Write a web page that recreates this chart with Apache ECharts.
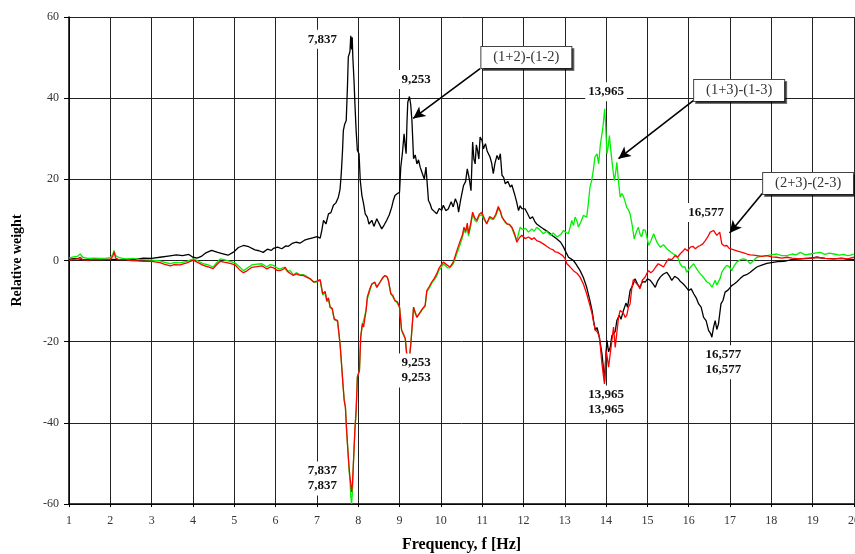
<!DOCTYPE html>
<html>
<head>
<meta charset="utf-8">
<script src="https://cdn.jsdelivr.net/npm/echarts@6/dist/echarts.min.js"></script>
<style>
html,body{margin:0;padding:0;background:#fff;}
#chart{width:855px;height:554px;}
</style>
</head>
<body>
<div id="chart"></div>
<script>
// (1+2)-(1-2) black
var fBlack=[1.00,1.15,1.3,1.5,1.7,1.9,2.05,2.2,2.4,2.6,2.8,3.0,3.2,3.4,3.6,3.75,3.9,4.0,4.1,4.2,4.3,4.45,4.6,4.75,4.85,5.0,5.1,5.22,5.35,5.5,5.6,5.7,5.8,5.9,5.95,6.05,6.15,6.25,6.31,6.4,6.5,6.6,6.7,6.8,6.9,7.0,7.08,7.12,7.16,7.22,7.28,7.34,7.40,7.46,7.52,7.56,7.59,7.62,7.64,7.67,7.71,7.74,7.76,7.80,7.82,7.84,7.855,7.87,7.90,7.92,7.95,7.98,8.02,8.05,8.09,8.13,8.17,8.22,8.26,8.33,8.38,8.45,8.5,8.57,8.63,8.69,8.75,8.81,8.85,8.89,8.95,9.0,9.03,9.07,9.11,9.14,9.16,9.18,9.20,9.24,9.27,9.30,9.34,9.38,9.42,9.46,9.50,9.55,9.60,9.64,9.67,9.70,9.74,9.78,9.84,9.90,9.96,10.02,10.06,10.12,10.18,10.25,10.30,10.35,10.40,10.43,10.48,10.55,10.60,10.64,10.69,10.73,10.77,10.80,10.83,10.86,10.89,10.92,10.95,11.00,11.03,11.08,11.12,11.19,11.23,11.27,11.31,11.36,11.40,11.44,11.48,11.52,11.56,11.62,11.68,11.72,11.76,11.80,11.84,11.88,11.92,11.96,12.04,12.1,12.16,12.22,12.28,12.32,12.4,12.48,12.56,12.65,12.72,12.81,12.9,12.97,13.03,13.09,13.15,13.21,13.28,13.37,13.45,13.53,13.60,13.66,13.70,13.74,13.78,13.82,13.86,13.90,13.94,13.965,13.99,14.02,14.06,14.10,14.14,14.18,14.22,14.26,14.32,14.36,14.42,14.48,14.52,14.58,14.64,14.70,14.76,14.82,14.88,14.95,15.0,15.07,15.13,15.19,15.25,15.31,15.38,15.47,15.53,15.59,15.66,15.75,15.80,15.87,15.93,16.0,16.06,16.12,16.18,16.24,16.30,16.36,16.42,16.48,16.53,16.56,16.60,16.64,16.68,16.72,16.78,16.83,16.88,16.95,17.04,17.1,17.16,17.25,17.33,17.4,17.49,17.57,17.65,17.75,17.89,18.0,18.15,18.30,18.5,18.7,18.9,19.1,19.3,19.51,19.7,19.85,20.0];
var vBlack=[0.3,0.5,0.3,0.2,0.3,0.2,0.3,0.2,0.1,0.3,0.6,0.5,0.8,1.1,1.4,1.2,1.5,0.8,0.6,1.0,1.8,2.5,2.0,1.6,1.3,2.2,3.2,3.7,3.4,2.6,2.4,2.0,2.8,2.5,3.0,3.3,2.9,3.6,3.5,4.2,4.5,4.3,5.0,5.3,5.6,5.9,5.5,7.5,9.9,9.0,11.5,11.8,13.6,14.2,15.6,17.5,21.4,27,32.0,33.5,34.5,43,50.1,51.5,55.4,52,55,50.1,44,38.7,32,27.1,26.3,19.7,16,14.0,11.5,10.7,9.0,9.9,8.4,10.3,9.2,7.8,8.8,9.9,11.2,13.1,14.8,16.0,16.5,16.8,23.0,26.5,31.2,28,26.3,34,39.0,40.4,38.5,34.5,25.1,26.0,23.8,24.8,23.0,21.5,20.1,23.0,19,14.8,14.0,12.7,12.1,11.5,12.8,12.4,13.6,12.3,12.7,14.5,13.2,15.2,14.0,11.9,15,18.5,19.5,22.6,20,17.2,29.2,25,23.8,28.5,27.0,25,30.4,29.5,27.5,28.8,27.0,25.5,24,21.4,24,25.9,24.8,26.3,21.0,20.5,18.9,19.5,18.1,18.6,17.2,15.8,14.2,12.3,13.5,12.8,12.7,11.5,10.3,10.8,9.5,9.0,8.4,7.8,7.3,6.6,6.0,5.3,4.5,3.3,2.0,0.8,0.4,0,-1.0,-2.5,-4.2,-6.6,-9.5,-12.3,-15,-17.2,-16.5,-18.1,-20.5,-23.0,-27,-29.8,-24,-19.7,-22.5,-21.4,-18.5,-18.9,-17.5,-14.8,-13.5,-14.5,-12.3,-10.5,-11.5,-7.4,-6.2,-4.5,-5.8,-6.6,-5.2,-5.3,-4.5,-4.9,-5.7,-6.6,-5.0,-4.1,-3.4,-2.9,-3.8,-4.9,-3.9,-4.5,-5.2,-5.8,-6.5,-7.4,-7.0,-8.2,-9.2,-10.7,-11.5,-14.0,-14.8,-17.2,-18.0,-18.9,-16.5,-14.8,-17.0,-15.6,-10.7,-9.8,-7.8,-7.3,-6.2,-5.8,-5.3,-4.4,-3.7,-3.5,-2.9,-2.2,-1.6,-1.2,-0.7,-0.5,-0.3,-0.2,0.2,0.4,0.5,0.8,0.5,0.4,0.5,0.3,0.2];

// (1+3)-(1-3) green
var fGreen=[1.00,1.1,1.2,1.27,1.33,1.45,1.6,1.75,1.9,2.0,2.06,2.09,2.13,2.2,2.3,2.4,2.55,2.7,2.8,3.0,3.2,3.3,3.45,3.55,3.69,3.85,4.01,4.1,4.25,4.35,4.49,4.58,4.66,4.75,4.82,4.92,5.02,5.12,5.22,5.3,5.42,5.55,5.67,5.79,5.87,5.95,6.03,6.11,6.2,6.28,6.35,6.43,6.5,6.58,6.67,6.75,6.85,6.92,7.0,7.08,7.14,7.2,7.24,7.28,7.32,7.37,7.42,7.50,7.56,7.60,7.63,7.66,7.69,7.72,7.75,7.78,7.80,7.82,7.84,7.86,7.88,7.92,7.95,7.98,8.03,8.06,8.10,8.13,8.19,8.22,8.28,8.33,8.4,8.45,8.53,8.6,8.65,8.70,8.73,8.79,8.84,8.89,8.95,9.0,9.05,9.10,9.14,9.18,9.23,9.28,9.34,9.38,9.42,9.50,9.56,9.62,9.66,9.72,9.78,9.84,9.90,9.95,10.00,10.05,10.10,10.16,10.22,10.30,10.35,10.40,10.47,10.52,10.56,10.60,10.64,10.67,10.72,10.77,10.82,10.87,10.93,10.99,11.05,11.11,11.18,11.27,11.33,11.39,11.44,11.48,11.54,11.60,11.66,11.72,11.78,11.84,11.88,11.92,11.98,12.05,12.12,12.20,12.26,12.32,12.40,12.48,12.56,12.65,12.72,12.81,12.90,12.97,13.03,13.09,13.17,13.21,13.25,13.30,13.33,13.40,13.45,13.53,13.57,13.61,13.65,13.69,13.73,13.78,13.82,13.86,13.90,13.93,13.965,13.99,14.02,14.05,14.08,14.11,14.14,14.17,14.20,14.23,14.26,14.30,14.34,14.38,14.42,14.46,14.50,14.54,14.58,14.63,14.68,14.73,14.78,14.82,14.86,14.90,14.95,15.00,15.03,15.09,15.15,15.23,15.31,15.39,15.47,15.55,15.63,15.70,15.75,15.79,15.85,15.91,15.95,16.03,16.12,16.20,16.28,16.36,16.44,16.50,16.56,16.60,16.64,16.68,16.72,16.76,16.80,16.86,16.92,16.98,17.04,17.10,17.16,17.25,17.33,17.41,17.49,17.57,17.65,17.75,17.89,18.0,18.13,18.25,18.38,18.5,18.6,18.70,18.82,18.94,19.06,19.18,19.3,19.4,19.51,19.65,19.75,19.84,19.92,20.0];
var vGreen=[0.6,0.9,1.0,1.6,0.8,0.5,0.6,0.5,0.6,0.7,1.5,2.5,1.2,0.8,0.5,0.4,0.5,0.3,0.2,0.1,-0.1,-0.4,-0.8,-0.5,-0.6,-0.2,0.4,0.0,-0.8,-1.0,-1.6,-0.5,0.4,0.2,0,-0.3,-0.6,-1.5,-2.5,-2.0,-1.1,-0.9,-0.8,-1.6,-1.0,-1.2,-1.8,-2.1,-1.7,-2.7,-2.5,-3.5,-3.0,-3.4,-3.5,-3.9,-4.6,-5.3,-5.3,-4.9,-8.5,-8.0,-10.2,-9.5,-11.5,-12,-14.6,-15.0,-20.5,-26,-30.4,-34,-36.1,-42,-46.8,-52,-54,-58,-60,-57,-50.9,-42,-37.0,-28.7,-27.1,-18.9,-16,-16.4,-12.3,-9.5,-7.5,-5.8,-5.5,-6.6,-5.3,-4.3,-3.7,-4.2,-4.9,-8.2,-9.0,-9.9,-10.5,-11.5,-17.2,-18.5,-19.3,-23.8,-25.5,-19.7,-11.5,-13,-14.0,-12.9,-12.0,-11.3,-7.8,-6.8,-5.6,-4.8,-3.8,-2.5,-1.9,-0.9,-1.2,-1.8,-1.8,-0.8,0.6,2.0,4.0,5.6,7.4,6.8,8.6,6.0,8.4,11.5,10.0,9.5,11.0,11.3,10.0,9.2,10.4,10.1,11.0,12.8,12.0,10.7,9.6,9.0,8.8,8.0,6.3,5.0,6.6,8.2,7.6,7.9,7.0,7.8,7.2,8.2,7.5,6.6,7.2,6.2,6.8,5.8,6.4,7.4,6.9,6.6,9.9,8.6,10.7,9.6,8.2,9.8,11.1,10.7,14,18.1,19.7,22.2,25.5,26.3,23.8,28.5,31.2,33.5,37.4,33,26.3,28,30.8,27.5,24.6,22,19.7,21.5,24.2,19.5,15.6,16.5,15.8,14.5,13.1,12.5,11.5,8.8,5.3,7.0,8.2,6.5,5.8,7.6,7.4,5.2,3.7,5.0,6.6,4.5,3.3,3.9,2.9,2.2,1.6,1.2,0.4,-0.8,-1.6,-1.6,-2.9,-1.8,-0.8,-2.2,-3.3,-4.2,-5.3,-5.6,-6.6,-5.8,-4.9,-6.0,-5.8,-4.4,-2.9,-1.9,-1.2,-1.5,-2.5,-1.3,-0.4,0.2,0.4,0.1,-0.8,0.0,0.8,1.0,1.2,1.4,1.6,1.2,1.2,1.6,1.4,2.0,1.4,1.6,1.8,2.0,1.5,1.8,1.6,1.3,1.5,1.2,1.3,1.6];

// (2+3)-(2-3) red
var fRed=[1.00,1.1,1.2,1.27,1.33,1.45,1.6,1.75,1.9,2.0,2.06,2.09,2.13,2.2,2.35,2.5,2.65,2.8,3.0,3.2,3.3,3.45,3.55,3.69,3.85,4.01,4.1,4.25,4.35,4.49,4.58,4.66,4.75,4.82,4.92,5.02,5.12,5.22,5.3,5.42,5.55,5.67,5.79,5.87,5.95,6.03,6.11,6.2,6.23,6.3,6.43,6.5,6.58,6.67,6.75,6.85,6.92,7.0,7.08,7.14,7.2,7.24,7.28,7.32,7.37,7.42,7.50,7.56,7.60,7.63,7.66,7.69,7.72,7.75,7.78,7.80,7.82,7.84,7.86,7.88,7.92,7.95,7.98,8.03,8.06,8.10,8.13,8.19,8.22,8.28,8.33,8.4,8.45,8.53,8.6,8.65,8.70,8.73,8.79,8.84,8.89,8.95,9.0,9.05,9.10,9.14,9.18,9.23,9.28,9.34,9.38,9.42,9.50,9.56,9.62,9.66,9.72,9.78,9.84,9.90,9.95,10.00,10.06,10.10,10.16,10.22,10.30,10.35,10.40,10.47,10.52,10.56,10.60,10.64,10.67,10.72,10.77,10.82,10.87,10.93,10.99,11.05,11.11,11.18,11.27,11.33,11.39,11.44,11.48,11.54,11.60,11.66,11.72,11.78,11.84,11.90,11.96,12.04,12.12,12.2,12.26,12.32,12.40,12.48,12.56,12.65,12.72,12.77,12.83,12.89,12.95,13.01,13.05,13.12,13.21,13.3,13.37,13.45,13.53,13.60,13.66,13.70,13.74,13.79,13.84,13.90,13.93,13.96,14.00,14.03,14.06,14.10,14.14,14.18,14.22,14.24,14.28,14.30,14.34,14.38,14.42,14.46,14.50,14.54,14.58,14.62,14.66,14.72,14.78,14.82,14.88,14.95,14.98,15.03,15.08,15.14,15.20,15.26,15.33,15.39,15.45,15.51,15.59,15.67,15.73,15.79,15.85,15.91,15.97,16.04,16.10,16.16,16.22,16.28,16.34,16.40,16.46,16.52,16.56,16.60,16.64,16.68,16.72,16.75,16.80,16.86,16.92,16.98,17.04,17.08,17.16,17.25,17.33,17.41,17.49,17.57,17.65,17.77,17.89,18.0,18.13,18.25,18.38,18.5,18.70,18.85,19.0,19.1,19.3,19.51,19.7,19.85,20.0];
var vRed=[0.0,0.3,0.4,0.8,0.2,0.1,0.3,0.2,0.3,0.3,1.0,2.1,0.6,0.2,0.2,0.0,-0.1,-0.2,-0.2,-0.5,-0.9,-1.3,-1.0,-1.1,-0.6,0.1,-0.4,-1.2,-1.5,-2.0,-1.0,-0.2,-0.4,-0.5,-0.8,-1.1,-2.2,-3.0,-2.6,-1.7,-1.5,-1.3,-2.1,-1.6,-1.8,-2.4,-2.5,-2.1,-1.6,-2.8,-3.7,-3.3,-3.6,-3.7,-4.1,-4.6,-5.3,-5.1,-4.7,-8.2,-7.6,-9.9,-9.2,-11.5,-11.8,-14.4,-14.8,-20.5,-26,-30.4,-34.5,-36.1,-42,-46.8,-51,-53.4,-55,-57,-55,-50.9,-41.5,-37.0,-28.7,-27.1,-18.9,-15.5,-16.4,-12.3,-9.0,-7.0,-5.8,-5.3,-6.6,-5.3,-4.1,-3.7,-4.0,-4.9,-8.2,-8.6,-9.9,-10.2,-11.5,-17.2,-18.2,-19.3,-23.8,-25.0,-19.7,-11.5,-12.8,-14.0,-12.7,-11.8,-11.1,-7.4,-6.4,-5.3,-4.4,-3.3,-2.0,-1.2,-0.4,-0.6,-1.2,-1.6,-0.4,1.2,2.8,4.9,6.2,8.2,7.2,9.2,6.6,9.0,11.9,10.5,9.9,11.4,11.9,10.4,9.0,10.8,10.3,11.4,13.3,12.2,10.7,9.8,9.0,8.9,8.2,6.8,4.5,5.6,6.2,5.4,5.8,5.2,5.6,4.9,4.6,4.1,3.5,2.9,2.6,2.1,2.0,1.6,1.2,0.4,-0.8,-1.5,-2.5,-3.2,-4.1,-5.8,-8.2,-10.8,-13.1,-15.4,-17.2,-17.6,-18.9,-25.5,-28,-30.4,-22.2,-24,-26.3,-26.3,-19.7,-16.4,-21.4,-21.7,-16,-14.0,-12.3,-12.3,-13.0,-14.0,-13.5,-11.5,-10.7,-7,-4.7,-5.5,-6.2,-7.0,-4.8,-4.0,-3.3,-2.5,-3.0,-2.5,-1.6,-0.8,-1.2,-1.6,-0.5,0.4,0.2,1.2,0.8,1.6,2.2,2.9,2.4,3.3,3.5,2.9,3.4,3.7,4.1,4.9,5.8,7.0,6.6,7.4,6.8,6.2,6.6,7.0,4.1,3.6,3.7,3.0,2.8,2.5,2.4,2.1,1.9,1.6,1.4,1.3,1.2,1.0,1.2,0.9,0.8,0.6,0.8,0.6,0.4,0.6,0.6,0.8,0.5,0.4,0.6,0.4,0.8];

// peak labels: [freq, value, text]
var peakLabels=[
    [7.13,54.5,'7,837'],
    [9.40,44.6,'9,253'],
    [14.00,41.6,'13,965'],
    [16.42,11.8,'16,577'],
    [7.13,-53.7,'7,837\n7,837'],
    [9.40,-27.1,'9,253\n9,253'],
    [14.00,-35.0,'13,965\n13,965'],
    [16.84,-25.1,'16,577\n16,577']
];
// callouts: box centre, arrow start, arrow tip
var callouts=[
    {text:'(1+2)-(1-2)',box:[12.07,50.0],from:[10.95,47.3],to:[9.33,35.0]},
    {text:'(1+3)-(1-3)',box:[17.22,41.9],from:[16.11,39.4],to:[14.30,25.1]},
    {text:'(2+3)-(2-3)',box:[18.89,19.0],from:[17.78,16.5],to:[16.99,6.8]}
];

function pairs(f,v){
    var out=[];
    for(var i=0;i<f.length;i++){ out.push([f[i],v[i]]); }
    return out;
}

var serif='"Liberation Serif","Times New Roman",serif';

var markPts=[];
peakLabels.forEach(function(p){
    markPts.push({
        coord:[p[0],p[1]],
        symbolSize:0,
        label:{show:true,position:'inside',formatter:p[2],fontFamily:serif,fontWeight:'bold',
            fontSize:13,color:'#111',lineHeight:15,backgroundColor:'#fff',padding:[2,3]}
    });
});
callouts.forEach(function(c){
    markPts.push({
        coord:c.box,
        symbolSize:0,
        label:{show:true,position:'inside',formatter:c.text,fontFamily:serif,fontSize:14.5,color:'#333',
            width:76,align:'center',backgroundColor:'#fff',borderColor:'#444',borderWidth:1,
            padding:[3,7],shadowColor:'rgba(0,0,0,0.55)',shadowOffsetX:2,shadowOffsetY:2,shadowBlur:0}
    });
});
var arrows=callouts.map(function(c){
    return [{coord:c.from},{coord:c.to}];
});

var myChart=echarts.init(document.getElementById('chart'));
var option={
    animation:false,
    backgroundColor:'#fff',
    grid:{left:69,right:1,top:17,bottom:50,outerBoundsMode:'none',containLabel:false},
    xAxis:{
        type:'value',min:1,max:20,interval:1,
        name:'Frequency, f [Hz]',nameLocation:'middle',nameGap:33,
        nameTextStyle:{fontFamily:serif,fontWeight:'bold',fontSize:16,color:'#000'},
        axisLine:{onZero:false,lineStyle:{color:'#000',width:1.5}},
        axisTick:{length:3,lineStyle:{color:'#000'}},
        axisLabel:{fontFamily:serif,fontSize:12,color:'#333',margin:11},
        splitLine:{show:true,lineStyle:{color:'#222',width:1}}
    },
    yAxis:{
        type:'value',min:-60,max:60,interval:20,
        name:'Relative weight',nameLocation:'middle',nameGap:45,
        nameTextStyle:{fontFamily:serif,fontWeight:'bold',fontSize:14,color:'#000'},
        axisLine:{onZero:false,lineStyle:{color:'#000',width:1.5}},
        axisTick:{length:5,lineStyle:{color:'#000'}},
        axisLabel:{fontFamily:serif,fontSize:12,color:'#333',margin:10},
        splitLine:{show:true,lineStyle:{color:'#222',width:1}}
    },
    series:[
        {name:'(1+2)-(1-2)',type:'line',data:pairs(fBlack,vBlack),showSymbol:false,
            lineStyle:{color:'#000',width:1.3},itemStyle:{color:'#000'}},
        {name:'(1+3)-(1-3)',type:'line',data:pairs(fGreen,vGreen),showSymbol:false,
            lineStyle:{color:'#00f000',width:1.3},itemStyle:{color:'#00f000'}},
        {name:'(2+3)-(2-3)',type:'line',data:pairs(fRed,vRed),showSymbol:false,
            lineStyle:{color:'#ff0000',width:1.3},itemStyle:{color:'#ff0000'}},
        {name:'notes',type:'line',data:[],silent:true,
            markLine:{silent:true,symbol:['none','arrow'],symbolSize:[9,12],
                lineStyle:{color:'#000',width:1.6,type:'solid'},label:{show:false},data:arrows},
            markPoint:{silent:true,data:markPts}
        }
    ]
};
myChart.setOption(option);
</script>
</body>
</html>
